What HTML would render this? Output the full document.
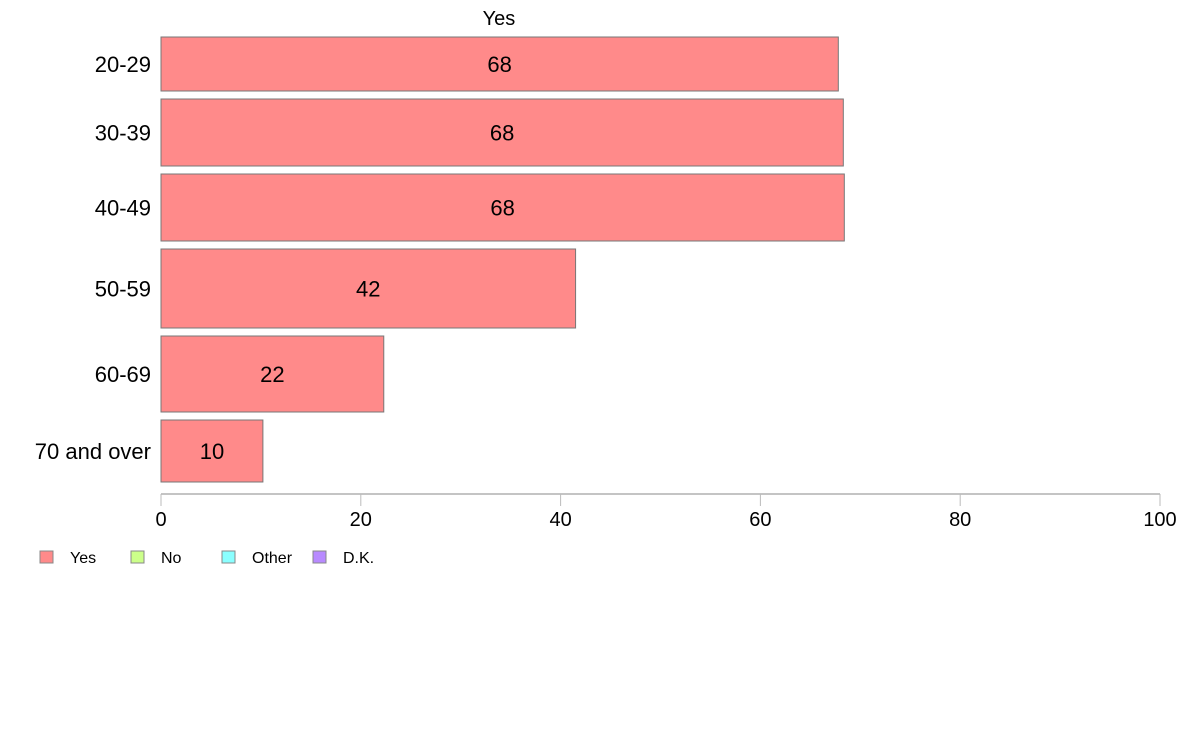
<!DOCTYPE html>
<html><head><meta charset="utf-8"><style>
body{margin:0;background:#fff;font-family:"Liberation Sans",Arial,sans-serif}
svg{display:block}
</style></head><body>
<svg id="chart" width="1188" height="736" xmlns="http://www.w3.org/2000/svg" font-family="Liberation Sans, Arial, sans-serif">
<text x="499" y="25" font-size="20" text-anchor="middle">Yes</text>
<g id="bars"></g>
<g id="axis"></g>
<g font-size="16">
<g><rect x="40" y="551" width="13" height="12" fill="#ff8a8a" stroke="#888"/><text x="70" y="563">Yes</text></g>
<g><rect x="131" y="551" width="13" height="12" fill="#ccff8a" stroke="#888"/><text x="161" y="563">No</text></g>
<g><rect x="222" y="551" width="13" height="12" fill="#8affff" stroke="#888"/><text x="252" y="563">Other</text></g>
<g><rect x="313" y="551" width="13" height="12" fill="#b88aff" stroke="#888"/><text x="343" y="563">D.K.</text></g>
</g>
</svg>
<script>
const categories=["20-29","30-39","40-49","50-59","60-69","70 and over"];
const values=[67.8,68.3,68.4,41.5,22.3,10.2];
const labels=["68","68","68","42","22","10"];
const weights=[54,67,67,79,76,62];
const ticks=[0,20,40,60,80,100];
const NS="http://www.w3.org/2000/svg";
const x0=161,x1=1160,yTop=37,yBottom=482,gap=8;
const xs=v=>x0+(x1-x0)*v/100;
const totalW=weights.reduce((a,b)=>a+b,0);
const unit=(yBottom-yTop-gap*(weights.length-1))/totalW;
const bars=document.getElementById('bars');
let yPos=yTop;
function mk(t,a,p){const e=document.createElementNS(NS,t);for(const k in a)e.setAttribute(k,a[k]);p.appendChild(e);return e;}
categories.forEach((c,i)=>{
  const h=weights[i]*unit;
  const r=mk('rect',{x:xs(0),y:yPos,width:xs(values[i])-xs(0),height:h,fill:'#ff8a8a',stroke:'#777','stroke-width':1},bars);
  
  
  const t=mk('text',{x:(xs(0)+xs(values[i]))/2,y:yPos+h/2+8,'font-size':22,'text-anchor':'middle'},bars);
  t.textContent=labels[i];
  
  
  const l=mk('text',{x:151,y:yPos+h/2+8,'font-size':22,'text-anchor':'end'},bars);
  l.textContent=c;
  
  
  yPos+=h+gap;
});
const ax=document.getElementById('axis');
mk('line',{x1:x0,x2:x1,y1:494,y2:494,stroke:'#888'},ax);
ticks.forEach(v=>{
  mk('line',{x1:xs(v),x2:xs(v),y1:494,y2:506,stroke:'#bbb'},ax);
  const t=mk('text',{x:xs(v),y:526,'font-size':20,'text-anchor':'middle'},ax);
  t.textContent=v;
  
  
});
</script>
</body></html>
